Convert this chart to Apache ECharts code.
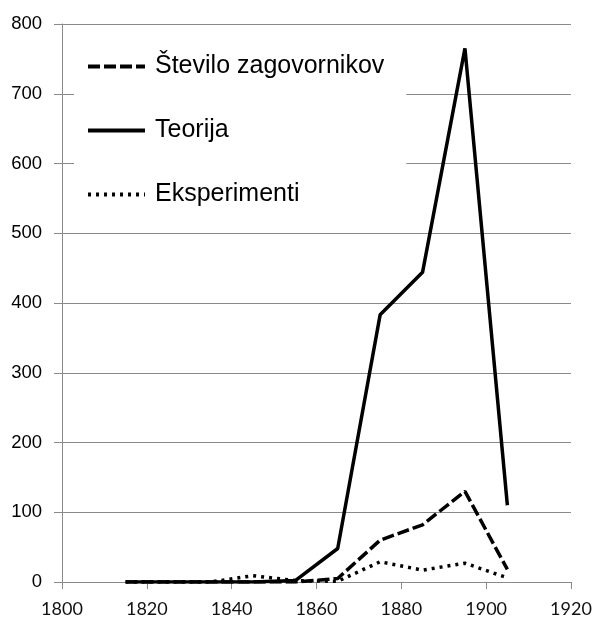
<!DOCTYPE html>
<html>
<head>
<meta charset="utf-8">
<script src="https://cdn.jsdelivr.net/npm/echarts@6/dist/echarts.min.js"></script>
<style>
html,body{margin:0;padding:0;background:#fff;}
#chart{width:595px;height:619px;}
</style>
</head>
<body>
<div id="chart"></div>
<script>
var years = [1815, 1825, 1835, 1845, 1855, 1865, 1875, 1885, 1895, 1905];
var zagovorniki = [0, 0, 0, 0, 0, 5, 60, 82, 130, 18];
var teorija = [0, 0, 0, 0, 2, 48, 383, 444, 765, 110];
var eksperimenti = [0, 0, 0, 9, 2, 1, 29, 17, 27, 6];
var seriesNames = ['Število zagovornikov', 'Teorija', 'Eksperimenti'];
var xTicks = {min: 1800, max: 1920, interval: 20};
var yTicks = {min: 0, max: 800, interval: 100};

function pairs(vals) {
  return years.map(function (y, i) { return [y, vals[i]]; });
}

var chart = echarts.init(document.getElementById('chart'), null, {renderer: 'canvas'});
chart.setOption({
  animation: false,
  backgroundColor: '#fff',
  grid: {left: 62, right: 24, top: 24, bottom: 37, containLabel: false},
  legend: {
    data: seriesNames,
    orient: 'vertical',
    left: 74,
    top: 34,
    backgroundColor: '#fff',
    padding: [20, 22, 20, 12],
    itemWidth: 57,
    itemHeight: 25,
    itemGap: 39,
    z: 10,
    itemStyle: {opacity: 0, borderWidth: 0},
    lineStyle: {width: 4},
    textStyle: {fontFamily: 'Liberation Sans', fontSize: 25, color: '#000', lineHeight: 25, padding: [0, 0, 0, 5]}
  },
  xAxis: {
    type: 'value',
    min: xTicks.min, max: xTicks.max, interval: xTicks.interval,
    axisLine: {show: true, onZero: false, lineStyle: {color: '#8a8a8a', width: 1}},
    axisTick: {show: true, length: 7, lineStyle: {color: '#8a8a8a'}},
    splitLine: {show: false},
    axisLabel: {fontFamily: 'Lato', fontSize: 18, color: '#111', margin: 18, lineHeight: 18,
      formatter: function (v) { return String(v); }}
  },
  yAxis: {
    type: 'value',
    min: yTicks.min, max: yTicks.max, interval: yTicks.interval,
    axisLine: {show: true, lineStyle: {color: '#8a8a8a', width: 1}},
    axisTick: {show: true, length: 8, lineStyle: {color: '#8a8a8a'}},
    splitLine: {show: true, lineStyle: {color: '#8a8a8a', width: 1}},
    axisLabel: {fontFamily: 'Liberation Sans', fontSize: 18.5, color: '#000', margin: 20}
  },
  series: [
    {
      name: seriesNames[0], type: 'line', data: pairs(zagovorniki),
      symbol: 'none', z: 3,
      lineStyle: {color: '#000', width: 3.5, type: [12, 4]},
      itemStyle: {color: '#000'}
    },
    {
      name: seriesNames[1], type: 'line', data: pairs(teorija),
      symbol: 'none', z: 2,
      lineStyle: {color: '#000', width: 3.5, type: 'solid'},
      itemStyle: {color: '#000'}
    },
    {
      name: seriesNames[2], type: 'line', data: pairs(eksperimenti),
      symbol: 'none', z: 2,
      lineStyle: {color: '#000', width: 3.5, type: [3, 5]},
      itemStyle: {color: '#000'}
    }
  ]
});
</script>
</body>
</html>
